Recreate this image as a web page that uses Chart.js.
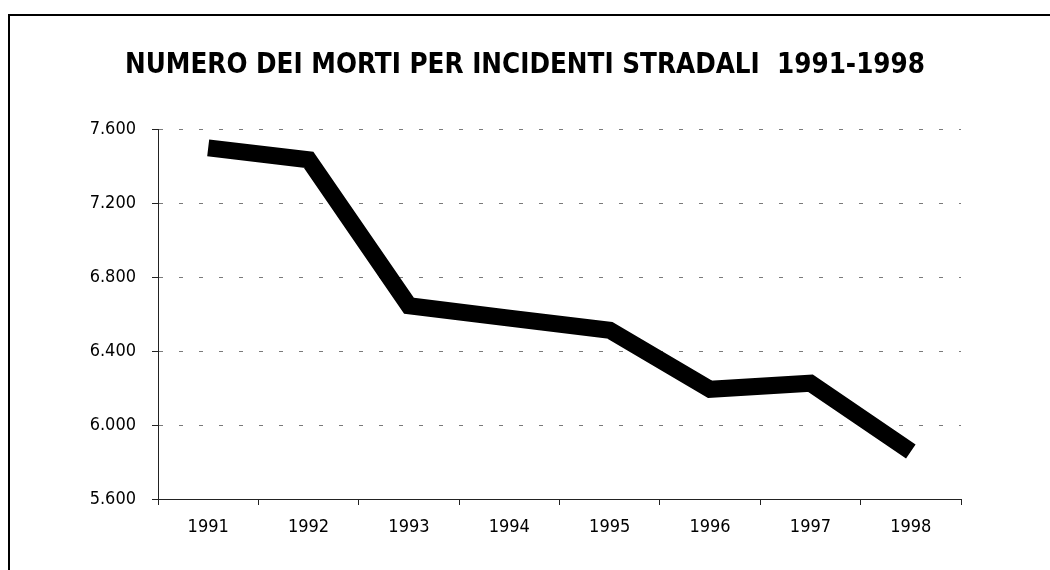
<!DOCTYPE html>
<html lang="it">
<head>
<meta charset="utf-8">
<title>Numero dei morti per incidenti stradali 1991-1998</title>
<script src="https://cdn.jsdelivr.net/npm/chart.js@4.4.1/dist/chart.umd.min.js"></script>
<style>
    html, body { margin: 0; padding: 0; background: #ffffff; }
    #chart-wrap { width: 1050px; height: 570px; }
</style>
</head>
<body>
<div id="chart-wrap">
    <canvas id="morti-chart" width="1050" height="570"></canvas>
</div>
<script>
// dati
const anni = ['1991', '1992', '1993', '1994', '1995', '1996', '1997', '1998'];
const morti = [7498, 7434, 6645, 6578, 6512, 6193, 6226, 5857];

// asse Y
const yMin = 5600;
const yMax = 7600;
const yStep = 400;

const titolo = 'NUMERO DEI MORTI PER INCIDENTI STRADALI  1991-1998';

const fontTesto = '"DejaVu Sans Condensed", "Liberation Sans", sans-serif';

// 7600 -> "7.600"
function formatMigliaia(v) {
    return String(v).replace(/\B(?=(\d{3})+(?!\d))/g, '.');
}

// cornice esterna (solo sinistra e alto visibili)
const cornicePlugin = {
    id: 'cornice',
    beforeDraw(chart) {
        const ctx = chart.ctx;
        ctx.save();
        ctx.strokeStyle = '#000000';
        ctx.lineWidth = 2;
        ctx.strokeRect(9, 15, chart.width + 20, chart.height + 20);
        ctx.restore();
    }
};

function createChart() {
    const canvas = document.getElementById('morti-chart');
    if (!canvas) {
        return null;
    }

    return new Chart(canvas, {
        type: 'line',
        data: {
            labels: anni,
            datasets: [
                {
                    label: 'Morti',
                    data: morti,
                    yAxisID: 'y',
                    borderColor: '#000000',
                    backgroundColor: '#000000',
                    borderWidth: 17,
                    borderCapStyle: 'butt',
                    borderJoinStyle: 'miter',
                    fill: false,
                    tension: 0,
                    pointRadius: 0,
                    pointHoverRadius: 0
                }
            ]
        },
        options: {
            responsive: false,
            animation: false,
            devicePixelRatio: 1,
            layout: {
                padding: 0
            },
            plugins: {
                legend: { display: false },
                tooltip: { enabled: false },
                title: {
                    display: true,
                    text: titolo,
                    color: '#000000',
                    font: { family: fontTesto, size: 27.5, weight: 'bold' },
                    padding: { top: 49, bottom: 47 }
                }
            },
            scales: {
                x: {
                    type: 'category',
                    offset: true,
                    afterFit(scale) { scale.height = 71; },
                    grid: {
                        display: true,
                        offset: true,
                        drawOnChartArea: false,
                        drawTicks: true,
                        tickLength: 6,
                        tickColor: '#222222',
                        tickWidth: 1
                    },
                    border: { display: true, color: '#222222', width: 1 },
                    ticks: {
                        color: '#000000',
                        padding: 12,
                        maxRotation: 0,
                        autoSkip: false,
                        font: { family: fontTesto, size: 18 }
                    }
                },
                y: {
                    type: 'linear',
                    position: 'left',
                    min: yMin,
                    max: yMax,
                    afterFit(scale) { scale.width = 158; },
                    grid: {
                        display: true,
                        drawOnChartArea: true,
                        drawTicks: true,
                        tickLength: 6,
                        color: '#7a7a7a',
                        lineWidth: 1,
                        tickColor: '#222222',
                        tickWidth: 1,
                        tickBorderDash: []
                    },
                    border: { display: true, color: '#222222', width: 1, dash: [4, 16] },
                    ticks: {
                        stepSize: yStep,
                        color: '#000000',
                        padding: 16,
                        font: { family: fontTesto, size: 18 },
                        callback: (v) => formatMigliaia(v)
                    }
                },
                // spazio vuoto a destra del grafico (titolo resta centrato sulla pagina)
                destra: {
                    type: 'linear',
                    position: 'right',
                    display: true,
                    afterFit(scale) { scale.width = 89; },
                    grid: { display: false, drawTicks: false },
                    border: { display: false },
                    ticks: { display: false }
                }
            }
        },
        plugins: [cornicePlugin]
    });
}

window.mortiChart = createChart();
</script>
</body>
</html>
